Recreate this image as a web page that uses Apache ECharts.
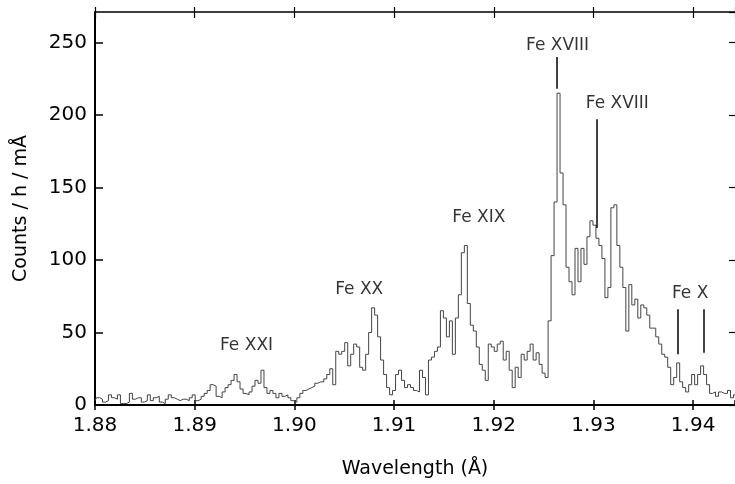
<!DOCTYPE html>
<html>
<head>
<meta charset="utf-8">
<script src="https://cdn.jsdelivr.net/npm/echarts@6/dist/echarts.min.js"></script>
<style>
html,body{margin:0;padding:0;background:#fff;}
#main{width:735px;height:484px;}
</style>
</head>
<body>
<div id="main"></div>
<script>
// spectrum bins: first bin wavelength and bin width (Å)
var startWave = 1.88;
var binWidth = 0.0003;
var counts = [
  3, 5, 4, 2, 3, 7, 5, 4, 7, 1,
  1, 2, 8, 4, 5, 5, 2, 3, 7, 3,
  5, 6, 2, 1, 4, 7, 5, 4, 3, 4,
  4, 3, 5, 7, 3, 4, 6, 8, 10, 14,
  13, 6, 5, 9, 12, 14, 17, 21, 16, 11,
  8, 7, 9, 13, 17, 15, 24, 12, 8, 10,
  8, 5, 8, 6, 7, 5, 3, 2, 5, 8,
  10, 11, 12, 13, 15, 16, 16, 18, 21, 25,
  14, 37, 35, 37, 43, 27, 35, 42, 40, 26,
  24, 35, 50, 67, 62, 47, 31, 21, 12, 7,
  10, 21, 24, 17, 12, 14, 12, 10, 9, 24,
  19, 7, 31, 33, 37, 40, 65, 60, 47, 58,
  35, 60, 76, 105, 110, 70, 55, 51, 40, 28,
  24, 17, 42, 40, 37, 42, 44, 31, 37, 24,
  12, 26, 19, 35, 31, 37, 42, 31, 36, 28,
  22, 19, 58, 103, 140, 215, 160, 138, 95, 85,
  76, 108, 85, 108, 97, 116, 127, 124, 115, 110,
  101, 74, 81, 136, 138, 110, 95, 81, 51, 83,
  69, 73, 60, 69, 67, 62, 53, 53, 47, 42,
  35, 33, 26, 14, 19, 29, 16, 12, 9, 14,
  21, 14, 21, 27, 21, 14, 8, 9, 6, 9,
  8, 8, 10, 5, 7
];

// ion labels (text, wavelength, counts at label centre)
var ionNames = ['Fe XXI', 'Fe XX', 'Fe XIX', 'Fe XVIII', 'Fe XVIII', 'Fe X'];
var ionWave = [1.8952, 1.9065, 1.9185, 1.9264, 1.9324, 1.9397];
var ionCount = [41, 79.5, 129, 248, 208, 77];

// vertical marker lines (wavelength, top, bottom)
var markWave = [1.9263, 1.9303, 1.9385, 1.9411];
var markTop = [240, 197, 66, 66];
var markBottom = [218, 122, 35, 36];

var spectrum = counts.map(function(v, i) {
    return [startWave + i * binWidth, v];
});
var labelPts = ionNames.map(function(n, i) {
    return {value: [ionWave[i], ionCount[i]], name: n};
});
var markLines = markWave.map(function(w, i) {
    return [{coord: [w, markTop[i]]}, {coord: [w, markBottom[i]]}];
});

var font = 'DejaVu Sans';
var xBase = {
    type: 'value',
    min: 1.88,
    max: 1.9442,
    interval: 0.01,
    splitLine: {show: false}
};

var chart = echarts.init(document.getElementById('main'));
chart.setOption({
    animation: false,
    grid: {left: 95, right: -2, top: 12, bottom: 76, containLabel: false},
    xAxis: [
        Object.assign({}, xBase, {
            position: 'bottom',
            name: 'Wavelength (Å)',
            nameLocation: 'middle',
            nameGap: 55,
            nameTextStyle: {color: '#000', fontFamily: font, fontSize: 19},
            axisLine: {lineStyle: {color: '#000', width: 2}},
            axisTick: {inside: false, length: 5, lineStyle: {color: '#000', width: 1.5}},
            axisLabel: {
                color: '#000', fontFamily: font, fontSize: 20, margin: 11,
                showMaxLabel: false,
                formatter: function(v) { return v.toFixed(2); }
            }
        }),
        Object.assign({}, xBase, {
            position: 'bottom',
            axisLine: {show: false},
            axisTick: {inside: true, length: 5, lineStyle: {color: '#000', width: 1.5}},
            axisLabel: {show: false}
        }),
        Object.assign({}, xBase, {
            position: 'top',
            axisLine: {lineStyle: {color: '#000', width: 1.5}},
            axisTick: {inside: true, length: 6, lineStyle: {color: '#000', width: 1.2}},
            axisLabel: {show: false}
        }),
        Object.assign({}, xBase, {
            position: 'top',
            axisLine: {show: false},
            axisTick: {inside: false, length: 5, lineStyle: {color: '#000', width: 1.2}},
            axisLabel: {show: false}
        })
    ],
    yAxis: [
        {
            type: 'value',
            min: 0,
            max: 271,
            interval: 50,
            position: 'left',
            name: 'Counts / h / mÅ',
            nameLocation: 'middle',
            nameGap: 64,
            nameTextStyle: {color: '#000', fontFamily: font, fontSize: 19},
            splitLine: {show: false},
            axisLine: {lineStyle: {color: '#000', width: 2}},
            axisTick: {inside: true, length: 8, lineStyle: {color: '#000', width: 1.5}},
            axisLabel: {color: '#000', fontFamily: font, fontSize: 20, margin: 8, showMaxLabel: false}
        },
        {
            type: 'value',
            min: 0,
            max: 271,
            interval: 50,
            position: 'right',
            splitLine: {show: false},
            axisLine: {show: false},
            axisTick: {inside: true, length: 6, lineStyle: {color: '#000', width: 1.2}},
            axisLabel: {show: false}
        }
    ],
    series: [
        {
            type: 'line',
            step: 'middle',
            data: spectrum,
            showSymbol: false,
            lineStyle: {color: '#444', width: 1},
            markLine: {
                silent: true,
                symbol: 'none',
                label: {show: false},
                lineStyle: {color: '#000', width: 1.5, type: 'solid'},
                data: markLines
            }
        },
        {
            type: 'scatter',
            data: labelPts,
            symbolSize: 0,
            silent: true,
            label: {
                show: true,
                position: 'inside',
                formatter: '{b}',
                color: '#000',
                fontFamily: font,
                fontSize: 17
            }
        }
    ]
});
</script>
</body>
</html>
